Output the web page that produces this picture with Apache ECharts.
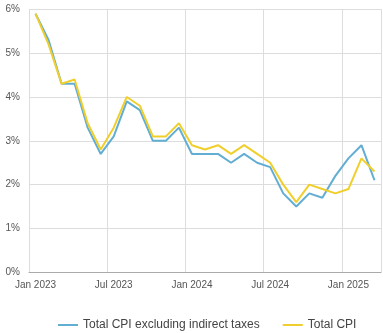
<!DOCTYPE html>
<html>
<head>
<meta charset="utf-8">
<script src="https://cdn.jsdelivr.net/npm/echarts@6/dist/echarts.min.js"></script>
<style>
html,body{margin:0;padding:0;background:#fff;}
#c{width:383px;height:333px;}
</style>
</head>
<body>
<div id="c"></div>
<script>
const months = ["Jan 2023","Feb 2023","Mar 2023","Apr 2023","May 2023","Jun 2023","Jul 2023","Aug 2023","Sep 2023","Oct 2023","Nov 2023","Dec 2023",
  "Jan 2024","Feb 2024","Mar 2024","Apr 2024","May 2024","Jun 2024","Jul 2024","Aug 2024","Sep 2024","Oct 2024","Nov 2024","Dec 2024",
  "Jan 2025","Feb 2025","Mar 2025"];
const cpiExclTaxes = [5.9,5.3,4.3,4.3,3.3,2.7,3.1,3.9,3.7,3.0,3.0,3.3,2.7,2.7,2.7,2.5,2.7,2.5,2.4,1.8,1.5,1.8,1.7,2.2,2.6,2.9,2.1];
const cpiTotal = [5.9,5.2,4.3,4.4,3.4,2.8,3.3,4.0,3.8,3.1,3.1,3.4,2.9,2.8,2.9,2.7,2.9,2.7,2.5,2.0,1.6,2.0,1.9,1.8,1.9,2.6,2.3];
const yTicks = [0,1,2,3,4,5,6];
const seriesNames = ["Total CPI excluding indirect taxes","Total CPI"];

const chart = echarts.init(document.getElementById('c'), null, {renderer:'canvas'});
chart.setOption({
  animation:false,
  backgroundColor:'#fff',
  textStyle:{fontFamily:'Liberation Sans, Arial, sans-serif'},
  grid:{left:29,right:2,top:9.3,bottom:60.7,containLabel:false},
  legend:{
    top:314,left:53,
    icon:'rect',itemWidth:20,itemHeight:2,itemGap:23,
    textStyle:{fontSize:12,color:'#444',fontFamily:'Liberation Sans, Arial, sans-serif'},
    data:seriesNames
  },
  xAxis:{
    type:'category',
    data:months,
    boundaryGap:true,
    axisLine:{show:true,lineStyle:{color:'#aaa',width:1}},
    axisTick:{show:false},
    axisLabel:{interval:5,fontSize:10,color:'#555',margin:8,fontFamily:'Liberation Sans, Arial, sans-serif'},
    splitLine:{show:true,interval:5,lineStyle:{color:'#ddd',width:1}}
  },
  yAxis:{
    type:'value',
    min:yTicks[0],max:yTicks[yTicks.length-1],interval:1,
    axisLine:{show:false},
    axisTick:{show:false},
    axisLabel:{formatter:v=>v+'%',fontSize:10,color:'#555',margin:9,fontFamily:'Liberation Sans, Arial, sans-serif'},
    splitLine:{show:true,lineStyle:{color:'#ddd',width:1}}
  },
  series:[
    {name:seriesNames[0],type:'line',data:cpiExclTaxes,symbol:'none',color:'#62aed3',lineStyle:{width:2,color:'#62aed3'}},
    {name:seriesNames[1],type:'line',data:cpiTotal,symbol:'none',color:'#f0cf2d',lineStyle:{width:2,color:'#f0cf2d'}}
  ]
});
</script>
</body>
</html>
